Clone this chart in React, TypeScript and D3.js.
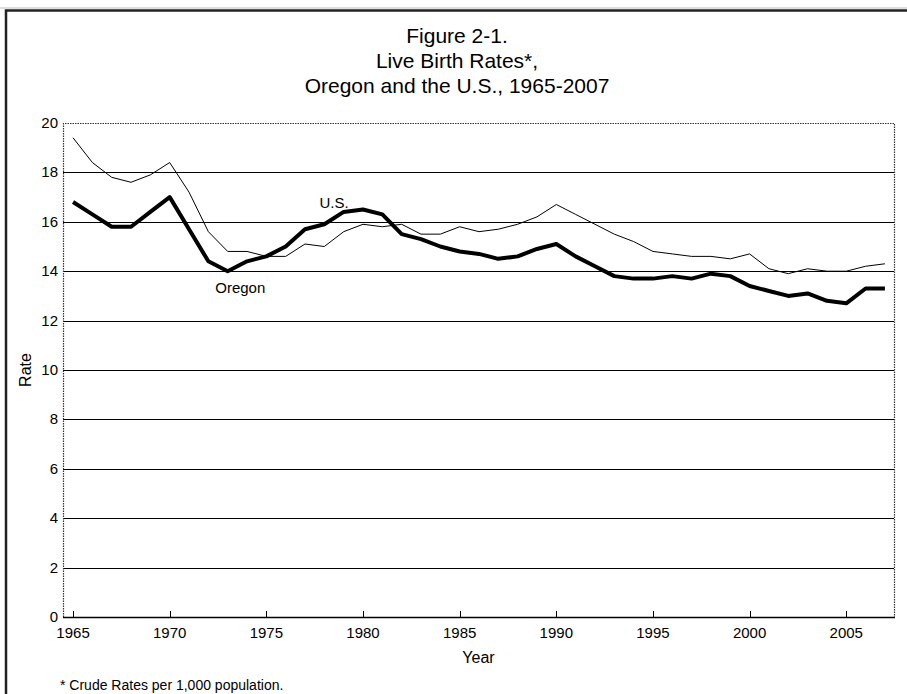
import React from "react";
import * as d3 from "d3";

const years: number[] = d3.range(1965, 2008);
const oregon: number[] = [
  16.8, 16.3, 15.8, 15.8, 16.4, 17.0, 15.7, 14.4, 14.0, 14.4,
  14.6, 15.0, 15.7, 15.9, 16.4, 16.5, 16.3, 15.5, 15.3, 15.0,
  14.8, 14.7, 14.5, 14.6, 14.9, 15.1, 14.6, 14.2, 13.8, 13.7,
  13.7, 13.8, 13.7, 13.9, 13.8, 13.4, 13.2, 13.0, 13.1, 12.8,
  12.7, 13.3, 13.3,
];
const us: number[] = [
  19.4, 18.4, 17.8, 17.6, 17.9, 18.4, 17.2, 15.6, 14.8, 14.8,
  14.6, 14.6, 15.1, 15.0, 15.6, 15.9, 15.8, 15.9, 15.5, 15.5,
  15.8, 15.6, 15.7, 15.9, 16.2, 16.7, 16.3, 15.9, 15.5, 15.2,
  14.8, 14.7, 14.6, 14.6, 14.5, 14.7, 14.1, 13.9, 14.1, 14.0,
  14.0, 14.2, 14.3,
];
const xTicks: number[] = [1965, 1970, 1975, 1980, 1985, 1990, 1995, 2000, 2005];
const yTicks: number[] = [0, 2, 4, 6, 8, 10, 12, 14, 16, 18, 20];
const titleLines: string[] = [
  "Figure 2-1.",
  "Live Birth Rates*,",
  "Oregon and the U.S., 1965-2007",
];
const footnote = "* Crude Rates per 1,000 population.";

const W = 907;
const H = 694;
const left = 63;
const right = 894;
const top = 123;
const bottom = 617;
const font = "'Liberation Sans', Arial, sans-serif";

export default function App() {
  const x = d3.scaleLinear().domain([1964.48, 2007.47]).range([left, right]);
  const y = d3.scaleLinear().domain([0, 20]).range([bottom, top]);
  const line = d3
    .line<number>()
    .x((_, i) => x(years[i]))
    .y((d) => y(d));

  return (
    <svg
      width={W}
      height={H}
      style={{ position: "absolute", left: 0, top: 0, background: "#fff" }}
    >
      <rect x={0} y={0} width={W} height={H} fill="#fff" />
      {/* outer frame */}
      <line x1={0} x2={W} y1={8} y2={8} stroke="#bbb" strokeWidth={1} />
      <rect
        x={6}
        y={10.5}
        width={W + 20}
        height={H + 20}
        fill="none"
        stroke="#222"
        strokeWidth={2.5}
      />
      {/* title */}
      {titleLines.map((t, i) => (
        <text
          key={i}
          x={457}
          y={43 + i * 25}
          textAnchor="middle"
          fontFamily={font}
          fontSize={21}
          fill="#000"
        >
          {t}
        </text>
      ))}
      {/* gridlines */}
      {yTicks
        .filter((v) => v > 0 && v < 20)
        .map((v) => (
          <line
            key={v}
            x1={left}
            x2={right}
            y1={Math.round(y(v)) + 0.5}
            y2={Math.round(y(v)) + 0.5}
            stroke="#000"
            strokeWidth={1}
          />
        ))}
      {/* dotted plot border (left, top, right) */}
      <path
        d={`M${left + 0.5},${bottom} V${top + 0.5} H${right + 0.5} V${bottom}`}
        fill="none"
        stroke="#333"
        strokeWidth={1.2}
        strokeDasharray="1.5,1"
      />
      {/* bottom axis */}
      <line
        x1={left}
        x2={right + 1}
        y1={bottom + 0.5}
        y2={bottom + 0.5}
        stroke="#000"
        strokeWidth={1.3}
      />
      {xTicks.map((t) => (
        <g key={t}>
          <line
            x1={Math.round(x(t)) + 0.5}
            x2={Math.round(x(t)) + 0.5}
            y1={bottom}
            y2={bottom - 6}
            stroke="#000"
            strokeWidth={1}
          />
          <text
            x={x(t)}
            y={bottom + 21}
            textAnchor="middle"
            fontFamily={font}
            fontSize={15}
            fill="#000"
          >
            {t}
          </text>
        </g>
      ))}
      {yTicks.map((v) => (
        <text
          key={v}
          x={left - 5}
          y={y(v) + 5}
          textAnchor="end"
          fontFamily={font}
          fontSize={15}
          fill="#000"
        >
          {v}
        </text>
      ))}
      {/* axis titles */}
      <text
        x={(left + right) / 2}
        y={663}
        textAnchor="middle"
        fontFamily={font}
        fontSize={16}
        fill="#000"
      >
        Year
      </text>
      <text
        transform={`translate(31,${(top + bottom) / 2}) rotate(-90)`}
        textAnchor="middle"
        fontFamily={font}
        fontSize={16}
        fill="#000"
      >
        Rate
      </text>
      {/* series */}
      <path d={line(us) || ""} fill="none" stroke="#000" strokeWidth={1} strokeLinejoin="round" />
      <path
        d={line(oregon) || ""}
        fill="none"
        stroke="#000"
        strokeWidth={4}
        strokeLinejoin="round"
        strokeLinecap="butt"
      />
      {/* series labels */}
      <text
        x={x(1978.5)}
        y={y(16.56)}
        textAnchor="middle"
        fontFamily={font}
        fontSize={15}
        fill="#000"
      >
        U.S.
      </text>
      <text
        x={x(1973.65)}
        y={y(13.12)}
        textAnchor="middle"
        fontFamily={font}
        fontSize={15}
        fill="#000"
      >
        Oregon
      </text>
      {/* footnote */}
      <text x={60} y={690} fontFamily={font} fontSize={14} fill="#000">
        {footnote}
      </text>
    </svg>
  );
}
